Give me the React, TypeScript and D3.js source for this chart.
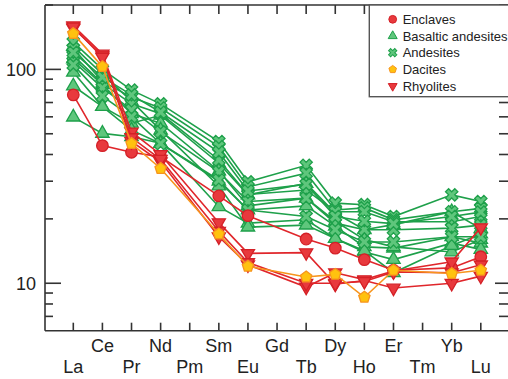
import React from "react";
import * as d3 from "d3";

const elements = ["La","Ce","Pr","Nd","Pm","Sm","Eu","Gd","Tb","Dy","Ho","Er","Tm","Yb","Lu"];
const upperRow = ["Ce","Nd","Sm","Gd","Dy","Er","Yb"];
const measured = ["La","Ce","Pr","Nd","Sm","Eu","Tb","Dy","Ho","Er","Yb","Lu"];

const andesites = [
  [134, 100, 80, 69, 46, 29.8, 35.6, 23.7, 23.3, 20.5, 25.9, 24.1],
  [125, 88, 74, 66, 43.5, 28.2, 32.7, 22, 22.5, 19.8, 21.6, 22.4],
  [116, 86, 69, 62, 37.7, 26, 27.3, 21.6, 21.6, 19.4, 19.4, 20.5],
  [109, 82, 64.6, 51, 33.2, 24.1, 25, 19.1, 17.8, 17.8, 18.1, 18.7],
  [105, 75, 60, 45, 30.4, 22, 20.5, 17.8, 15.6, 15.6, 16.5, 16.5],
  [120, 92, 76, 63, 41, 27, 29, 20.5, 19.5, 19, 20.5, 21.5],
];
const basalticAndesites = [
  [97, 67, 56, 61, 36.4, 25.9, 29.3, 21.3, 17.8, 18.8, 21.6, 18.0],
  [83.6, 67, 52, 45, 30, 22, 23, 18.5, 14.8, 14.6, 16.5, 15.4],
  [59.8, 50.2, 48.4, 45.1, 22.8, 19.1, 19.8, 16.2, 14.0, 12.9, 15.4, 14.4],
  [112, 85, 62, 56, 33.5, 23, 25, 19.5, 16, 14.8, 14.0, 16],
  [128, 95, 71, 52, 28.5, 18.3, 18.7, 16.2, 14.2, 11.2, 15.0, 17],
];
const enclaves = [
  [76, 44, 41, 39, 25.6, 20.7, 16.1, 14.6, 12.9, 11.5, 11.8, 13.3],
];
const dacites = [
  [147, 103, 45, 34.4, 17, 12.0, 10.7, 11.0, 8.6, 11.5, 11.1, 11.5],
];
const rhyolites = [
  [160, 118, 51, 40, 19.2, 13.8, 13.9, 9.9, 10.3, 9.5, 10.0, 10.8],
  [156, 116, 46, 37, 16.5, 12.2, 9.6, 11.2, 10.4, 11.4, 12.6, 18.2],
  [158, 114, 48, 38, 17.5, 12.5, 10.0, 10.0, 10.2, 11.3, 11.2, 12.2],
];

const yMinorTicks = [7, 8, 9, 20, 30, 40, 50, 60, 70, 80, 90, 200];
const yMajorTicks = [10, 100];

const legendLabels = ["Enclaves", "Basaltic andesites", "Andesites", "Dacites", "Rhyolites"];

const W = 508, H = 379;
const left = 45, right = 509, top = 5, bottom = 330.7;

type Style = { kind: string; line: string; fill: string; stroke: string; size: number };
const styles: Record<string, Style> = {
  Enclaves: { kind: "circle", line: "#e0262b", fill: "#e8393d", stroke: "#d42027", size: 105 },
  "Basaltic andesites": { kind: "triangle", line: "#1ea04a", fill: "#5fc67c", stroke: "#1ea04a", size: 78 },
  Andesites: { kind: "x", line: "#1ea04a", fill: "#5fc67c", stroke: "#1ea04a", size: 95 },
  Dacites: { kind: "pentagon", line: "#f7941d", fill: "#ffc20f", stroke: "#f7941d", size: 100 },
  Rhyolites: { kind: "down", line: "#e0262b", fill: "#e8393d", stroke: "#d42027", size: 75 },
};

function pentagonPath(r: number) {
  const pts = d3.range(5).map((i) => {
    const a = -Math.PI / 2 + (i * 2 * Math.PI) / 5;
    return [r * Math.cos(a), r * Math.sin(a)];
  });
  return "M" + pts.map((p) => p.join(",")).join("L") + "Z";
}

function Marker({ kind, x, y, size, fill, stroke, sw }: any) {
  if (kind === "circle") {
    const r = Math.sqrt(size / Math.PI);
    return <circle cx={x} cy={y} r={r} fill={fill} stroke={stroke} strokeWidth={sw} />;
  }
  if (kind === "pentagon") {
    const r = Math.sqrt(size / Math.PI) * 1.05;
    return <path d={pentagonPath(r)} transform={`translate(${x},${y})`} fill={fill} stroke={stroke} strokeWidth={sw} />;
  }
  if (kind === "triangle") {
    return <path d={d3.symbol(d3.symbolTriangle, size)()!} transform={`translate(${x},${y})`} fill={fill} stroke={stroke} strokeWidth={sw} />;
  }
  if (kind === "down") {
    return <path d={d3.symbol(d3.symbolTriangle, size)()!} transform={`translate(${x},${y}) rotate(180)`} fill={fill} stroke={stroke} strokeWidth={sw} />;
  }
  return <path d={d3.symbol(d3.symbolCross, size)()!} transform={`translate(${x},${y}) rotate(45)`} fill={fill} stroke={stroke} strokeWidth={sw} />;
}

export default function App() {
  const x = d3.scalePoint<string>().domain(elements).range([73.3, 480.8]);
  const y = d3.scaleLog().domain([6, 200]).range([bottom, top]);
  const line = d3
    .line<number>()
    .x((_, i) => x(measured[i])!)
    .y((d) => y(d));

  const groups: [string, number[][]][] = [
    ["Basaltic andesites", basalticAndesites],
    ["Andesites", andesites],
    ["Enclaves", enclaves],
    ["Rhyolites", rhyolites],
    ["Dacites", dacites],
  ];

  const font = "'Liberation Sans', Arial, Helvetica, sans-serif";

  return (
    <svg width={W} height={H} style={{ position: "absolute", left: 0, top: 0, background: "#fff" }} fontFamily={font}>
      <rect width={W} height={H} fill="#fff" />
      {groups.map(([name, rows]) => {
        const s = styles[name];
        return (
          <g key={name}>
            {rows.map((row, ri) => (
              <g key={ri}>
                <path d={line(row)!} fill="none" stroke={s.line} strokeWidth={1.6} />
                {row.map((v, i) => (
                  <Marker key={i} kind={s.kind} x={x(measured[i])} y={y(v)} size={s.size} fill={s.fill} stroke={s.stroke} sw={1.3} />
                ))}
              </g>
            ))}
          </g>
        );
      })}
      <g stroke="#333" strokeWidth={1.6} fill="none">
        <line x1={left} x2={right} y1={top} y2={top} />
        <line x1={left} x2={right} y1={bottom} y2={bottom} />
        <line x1={left} x2={left} y1={top} y2={bottom} />
        <line x1={right} x2={right} y1={top} y2={bottom} />
      </g>
      <g stroke="#333" strokeWidth={1.6}>
        {elements.map((e) => (
          <g key={e}>
            <line x1={x(e)} x2={x(e)} y1={bottom} y2={bottom - 8} />
            <line x1={x(e)} x2={x(e)} y1={top} y2={top + 9} />
          </g>
        ))}
      </g>
      <g stroke="#333" strokeWidth={1.6}>
        {yMinorTicks.map((t) => (
          <g key={t}>
            <line x1={left} x2={left + 8} y1={y(t)} y2={y(t)} />
            <line x1={right} x2={right - 10} y1={y(t)} y2={y(t)} />
          </g>
        ))}
        {yMajorTicks.map((t) => (
          <g key={t}>
            <line x1={left} x2={left + 16} y1={y(t)} y2={y(t)} />
            <line x1={right} x2={right - 14} y1={y(t)} y2={y(t)} />
          </g>
        ))}
      </g>
      {yMajorTicks.map((t) => (
        <text key={t} x={36} y={y(t)} dy="0.36em" textAnchor="end" fontSize={18} fill="#222">
          {String(t)}
        </text>
      ))}
      {elements.map((e) => (
        <text key={e} x={x(e)} y={upperRow.includes(e) ? 352 : 373} textAnchor="middle" fontSize={18} fill="#222">
          {e}
        </text>
      ))}
      <rect x={369.3} y={top} width={right - 369.3} height={96.7 - top} fill="#fff" stroke="#555" strokeWidth={1.4} />
      {legendLabels.map((l, i) => {
        const s = styles[l];
        const cy = 19.3 + i * 16.7;
        return (
          <g key={l}>
            <Marker kind={s.kind} x={392.7} y={cy} size={s.size * 0.45} fill={s.fill} stroke={s.stroke} sw={1} />
            <text x={402.7} y={cy} dy="0.36em" fontSize={13} fill="#222">
              {l}
            </text>
          </g>
        );
      })}
    </svg>
  );
}
